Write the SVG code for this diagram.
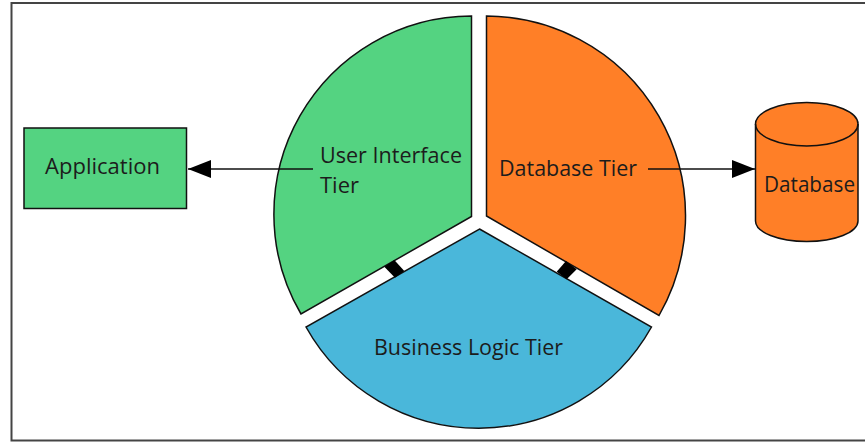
<svg xmlns="http://www.w3.org/2000/svg" width="865" height="442" viewBox="0 0 865 442">
<defs>
<marker id="arrow" markerUnits="userSpaceOnUse" markerWidth="24" markerHeight="20" refX="23" refY="10" orient="auto"><path d="M0 1 L23 10 L0 19 Z" fill="#000"/></marker>
</defs>
<style>
.s{stroke:#111;stroke-width:1.5}
.g{fill:#54d381}
.o{fill:#ff7f27}
.b{fill:#4ab7da}
text{font-family:"Open Sans","Noto Sans","Liberation Sans",sans-serif;font-size:21.5px;fill:#1c1c1c}
.c{stroke:#111;stroke-width:1.5;fill:none}
</style>
<rect x="0" y="0" width="865" height="442" fill="#fff"/>
<rect id="frame" x="11.500" y="3" width="860" height="437.500" fill="none" stroke="#444" stroke-width="2"/>
<g id="user-interface-tier">
<path class="s g" d="M471.500 16 A198 198 0 0 0 301 314 L471.500 216.500 Z"/>
<text x="320" y="163" textLength="142" lengthAdjust="spacingAndGlyphs">User Interface</text>
<text x="320" y="192.500" textLength="39" lengthAdjust="spacingAndGlyphs">Tier</text>
</g>
<g id="database-tier">
<path class="s o" d="M486.500 16 A200 200 0 0 1 659 315.500 L486.500 216 Z"/>
<text x="499" y="176" textLength="138" lengthAdjust="spacingAndGlyphs">Database Tier</text>
</g>
<g id="business-logic-tier">
<path class="s b" d="M479.500 229 L651.500 327 A198 198 0 0 1 306 327 Z"/>
<text x="374" y="355" textLength="189" lengthAdjust="spacingAndGlyphs">Business Logic Tier</text>
</g>
<g id="application">
<rect class="s g" x="24" y="128" width="162.500" height="80.500"/>
<text x="45" y="174" textLength="115" lengthAdjust="spacingAndGlyphs">Application</text>
</g>
<g id="database">
<path class="s o" d="M755.500 124 A51.250 21.500 0 0 1 858 124 V221 A51.250 20.500 0 0 1 755.500 221 Z"/>
<path class="s" fill="none" d="M755.500 124 A51.250 22 0 0 0 858 124"/>
<text x="764" y="192" textLength="91" lengthAdjust="spacingAndGlyphs">Database</text>
</g>
<g id="connectors">
<path class="c" marker-end="url(#arrow)" d="M313 169 H188"/>
<path class="c" marker-end="url(#arrow)" d="M648 169 H755"/>
<path d="M384.300 266.700 L394.300 260 L404.300 271 L395 277.700 Z" fill="#000"/>
<path d="M566 261 L576.700 269.300 L566.700 279.300 L556.700 271.700 Z" fill="#000"/>
</g>
</svg>
